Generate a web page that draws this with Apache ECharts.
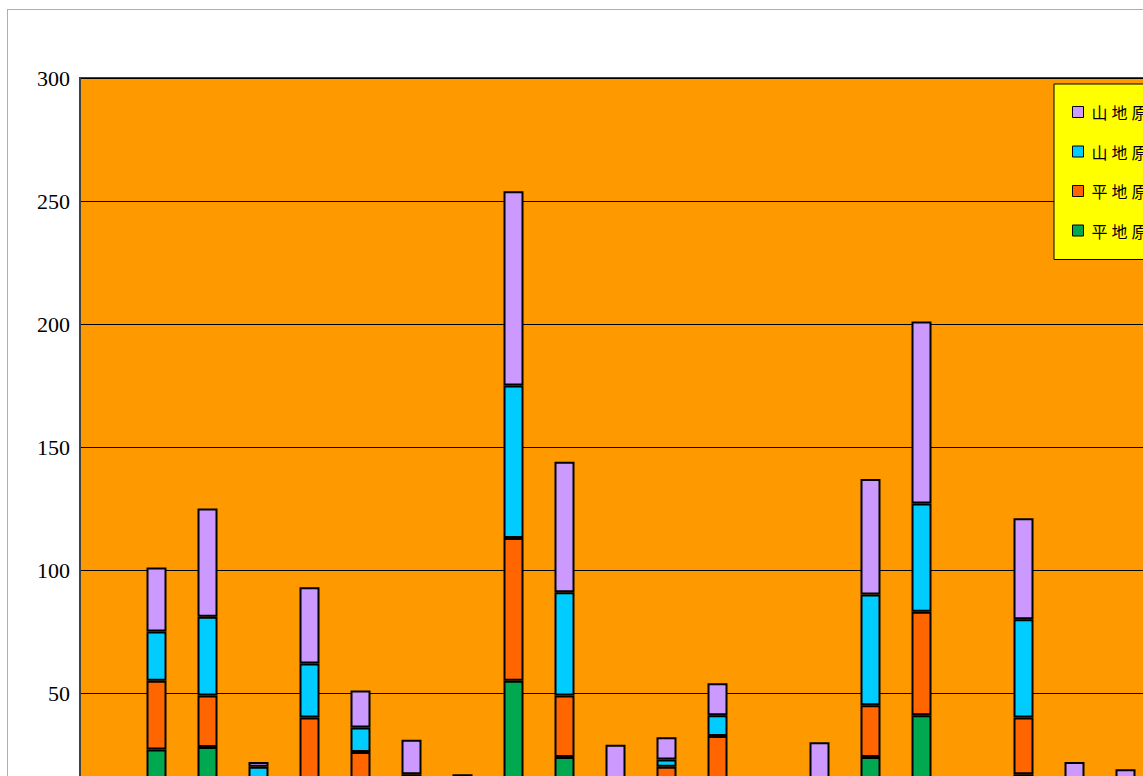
<!DOCTYPE html>
<html>
<head>
<meta charset="utf-8">
<script src="https://cdn.jsdelivr.net/npm/echarts@6/dist/echarts.min.js"></script>
<style>
  html, body { margin: 0; padding: 0; background: #fff; overflow: hidden; }
  #chart {
    position: absolute;
    left: 7px;
    top: 9px;
    width: 1400px;
    height: 1000px;
    border: 1px solid #8EB4E3;
  }
</style>
</head>
<body>
<div id="chart"></div>
<script>
// categories (their labels fall below the visible area, so they are not drawn)
const categories = [
  '1', '2', '3', '4', '5', '6', '7', '8', '9', '10', '11', '12', '13',
  '14', '15', '16', '17', '18', '19', '20', '21', '22', '23', '24', '25'
]

// stacked from bottom to top
const plainMale = [0, 27, 28, 0, 12, 8, 5, 3, 55, 24, 4, 6, 14, 2, 4, 24, 41, 1, 17, 3, 2, 10, 6, 20, 8]
const plainFemale = [0, 28, 21, 4, 28, 18, 8, 6, 58, 25, 5, 14, 18.5, 4, 6, 21, 42, 3, 23, 5, 4, 12, 8, 22, 9]
const mountainMale = [0, 20, 32, 16, 22, 10, 4, 3, 62, 42, 3, 3, 8.5, 2, 4, 45, 44, 2, 40, 4, 3, 15, 7, 30, 10]
const mountainFemale = [0, 26, 44, 2, 31, 15, 14, 5, 79, 53, 17, 9, 13, 5, 16, 47, 74, 6, 41, 10, 10, 20, 9, 35, 12]

const yTicks = { min: 0, max: 300, interval: 50 }

const seriesDefs = [
  { name: '平地原住民男', data: plainMale, color: '#00A850' },
  { name: '平地原住民女', data: plainFemale, color: '#FF6600' },
  { name: '山地原住民男', data: mountainMale, color: '#00CCFF' },
  { name: '山地原住民女', data: mountainFemale, color: '#CC99FF' }
]

const chart = echarts.init(document.getElementById('chart'), null, { renderer: 'svg' })

chart.setOption({
  animation: false,
  grid: {
    left: 72,
    top: 68,
    width: categories.length * 51,
    height: 738,
    show: true,
    backgroundColor: '#FF9900',
    borderColor: '#404040',
    borderWidth: 2
  },
  legend: {
    orient: 'vertical',
    left: 1046,
    top: 74,
    data: ['山地原住民女', '山地原住民男', '平地原住民女', '平地原住民男'],
    backgroundColor: '#FFFF00',
    borderColor: '#000',
    borderWidth: 1,
    borderRadius: 0,
    padding: [20, 20, 21, 18],
    itemWidth: 11,
    itemHeight: 11,
    itemGap: 23.5,
    icon: 'rect',
    itemStyle: { borderColor: '#000', borderWidth: 1 },
    textStyle: {
      fontFamily: 'Noto Sans CJK TC',
      fontSize: 16,
      color: '#000',
      padding: [0, 0, 0, 3]
    }
  },
  xAxis: {
    type: 'category',
    data: categories,
    axisLine: { lineStyle: { color: '#404040', width: 2 } },
    axisTick: { show: false },
    axisLabel: { show: false }
  },
  yAxis: {
    type: 'value',
    min: yTicks.min,
    max: yTicks.max,
    interval: yTicks.interval,
    axisLine: { show: true, lineStyle: { color: '#404040', width: 2 } },
    axisTick: { show: false },
    axisLabel: {
      color: '#000',
      fontFamily: 'Liberation Serif',
      fontSize: 22,
      margin: 10,
      showMinLabel: false
    },
    splitLine: { show: true, lineStyle: { color: '#000', width: 1 } }
  },
  series: seriesDefs.map(s => ({
    name: s.name,
    type: 'bar',
    stack: 'total',
    barWidth: 20,
    data: s.data,
    itemStyle: {
      color: s.color,
      borderColor: '#000',
      borderWidth: 2
    }
  }))
})

// the legend labels are set wide, like the source
const spreadLegend = () => {
  document.querySelectorAll('#chart text').forEach(t => {
    if (t.textContent.indexOf('原住民') >= 0) {
      t.style.letterSpacing = '4px'
    }
  })
}
spreadLegend()
chart.on('finished', spreadLegend)
</script>
</body>
</html>
